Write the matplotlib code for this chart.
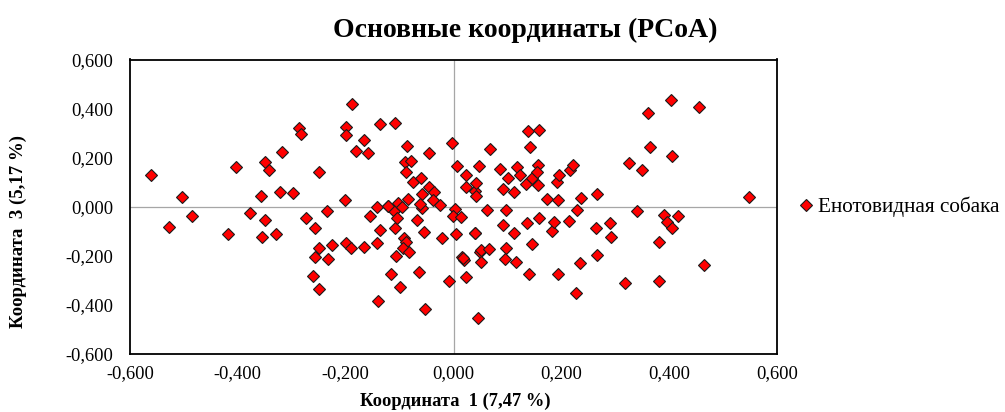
import matplotlib.pyplot as plt
from matplotlib.ticker import FuncFormatter

# PCoA scores
coord1 = [
    -0.561, -0.504, -0.485, -0.527, -0.419, -0.403, -0.378, -0.357, -0.349, -0.342,
    -0.349, -0.356, -0.330, -0.318, -0.322, -0.298, -0.286, -0.283, -0.273, -0.249,
    -0.256, -0.261, -0.249, -0.250, -0.257, -0.232, -0.226, -0.234, -0.201, -0.199,
    -0.199, -0.188, -0.180, -0.166, -0.158, -0.199, -0.190, -0.166, -0.154, -0.142,
    -0.140, -0.137, -0.136, -0.109, -0.141, -0.122, -0.111, -0.103, -0.109, -0.104,
    -0.116, -0.100, -0.106, -0.096, -0.092, -0.088, -0.094, -0.083, -0.087, -0.090,
    -0.089, -0.079, -0.085, -0.075, -0.060, -0.064, -0.067, -0.059, -0.058, -0.055,
    -0.053, -0.045, -0.045, -0.037, -0.038, -0.025, -0.021, -0.009, -0.003, 0.003,
    -0.001, 0.004, 0.006, 0.014, 0.016, 0.019, 0.023, 0.024, 0.024, 0.039,
    0.041, 0.039, 0.042, 0.048, 0.049, 0.051, 0.051, 0.046, 0.066, 0.062,
    0.068, 0.086, 0.092, 0.092, 0.098, 0.097, 0.095, 0.101, 0.113, 0.113,
    0.118, 0.116, 0.123, 0.134, 0.137, 0.138, 0.141, 0.140, 0.146, 0.145,
    0.156, 0.155, 0.156, 0.158, 0.159, 0.173, 0.183, 0.186, 0.192, 0.195,
    0.194, 0.193, 0.215, 0.217, 0.221, 0.229, 0.237, 0.235, 0.227, 0.266,
    0.265, 0.266, 0.291, 0.293, 0.318, 0.326, 0.341, 0.350, 0.360, 0.365,
    0.381, 0.382, 0.391, 0.396, 0.405, 0.403, 0.406, 0.417, 0.456, 0.465,
    0.548, -0.063, -0.121, 0.017, 0.040,
]
coord3 = [
    0.130, 0.038, -0.036, -0.083, -0.113, 0.161, -0.027, 0.042, 0.184, 0.151,
    -0.052, -0.122, -0.112, 0.223, 0.059, 0.057, 0.322, 0.296, -0.046, 0.142,
    -0.087, -0.282, -0.334, -0.168, -0.206, -0.212, -0.154, -0.019, 0.026, 0.326,
    0.291, 0.420, 0.226, 0.272, 0.218, -0.146, -0.168, -0.164, -0.036, -0.149,
    -0.386, -0.094, 0.336, 0.341, 0.001, 0.005, -0.016, 0.017, -0.087, -0.046,
    -0.274, -0.329, -0.200, 0.001, -0.127, -0.144, -0.168, -0.186, 0.246, 0.182,
    0.142, 0.186, 0.032, 0.100, 0.117, -0.266, -0.054, 0.050, -0.007, -0.101,
    -0.415, 0.217, 0.080, 0.060, 0.027, 0.008, -0.127, -0.301, 0.258, -0.009,
    -0.037, -0.111, 0.165, -0.042, -0.206, -0.216, 0.131, 0.082, -0.285, 0.066,
    0.098, -0.106, 0.042, 0.165, -0.184, -0.227, -0.176, -0.454, -0.174, -0.014,
    0.235, 0.155, 0.072, -0.075, -0.012, -0.167, -0.212, 0.117, -0.106, 0.059,
    0.163, -0.227, 0.130, 0.094, -0.065, 0.308, 0.242, -0.276, -0.152, 0.116,
    0.170, 0.140, 0.090, 0.314, -0.047, 0.032, -0.100, -0.063, 0.102, 0.130,
    0.027, -0.275, -0.059, 0.149, 0.171, -0.012, 0.035, -0.228, -0.352, 0.052,
    -0.087, -0.198, -0.065, -0.122, -0.310, 0.177, -0.017, 0.151, 0.382, 0.244,
    -0.143, -0.303, -0.034, -0.061, -0.085, 0.435, 0.208, -0.037, 0.407, -0.238,
    0.041, 0.013, 0.005, -0.210, -0.108,
]
series_name = 'Енотовидная собака'
title = 'Основные координаты (PCoA)'
xlabel = 'Координата  1 (7,47 %)'
ylabel = 'Координата  3 (5,17 %)'
ticks = [-0.6, -0.4, -0.2, 0.0, 0.2, 0.4, 0.6]

plt.rcParams['font.family'] = ['Liberation Serif', 'DejaVu Serif']

fig = plt.figure(figsize=(10.05, 4.12), dpi=100)
ax = fig.add_axes([130 / 1005, 1 - 354 / 412, 647 / 1005, 294.5 / 412])

ax.axhline(0, color='#a6a6a6', lw=0.9, zorder=1)
ax.axvline(0, color='#a6a6a6', lw=0.9, zorder=1)
ax.plot(coord1, coord3, ls='none', marker='D', markersize=6.6,
        markerfacecolor='#ff0000', markeredgecolor='#1a1a1a',
        markeredgewidth=0.8, label=series_name, zorder=3)

ax.set_xlim(-0.6, 0.6)
ax.set_ylim(-0.6, 0.6)
ax.set_xticks(ticks)
ax.set_yticks(ticks)
fmt = FuncFormatter(lambda v, p: f'{v:.3f}'.replace('.', ',').replace('-0,000', '0,000'))
ax.xaxis.set_major_formatter(fmt)
ax.yaxis.set_major_formatter(fmt)
ax.tick_params(axis='both', length=0, labelsize=13.3, colors='black')
ax.tick_params(axis='x', pad=8)
ax.tick_params(axis='y', pad=12)
for s in ax.spines.values():
    s.set_linewidth(1.3)
    s.set_color('black')

fig.text(525 / 1005, 1 - 30 / 412, title, ha='center', va='center',
         fontsize=20, fontweight='bold')
fig.text(455 / 1005, 1 - 401 / 412, xlabel, ha='center', va='center',
         fontsize=13.3, fontweight='bold')
fig.text(18 / 1005, 1 - 232 / 412, ylabel, ha='center', va='center',
         rotation=90, fontsize=13.5, fontweight='bold')

fig.legend(loc='center left', bbox_to_anchor=(795 / 1005, 1 - 207 / 412),
           frameon=False, fontsize=15.3, handletextpad=0.1,
           handlelength=1.0, borderaxespad=0, borderpad=0)

fig.savefig('out.png', dpi=100)
